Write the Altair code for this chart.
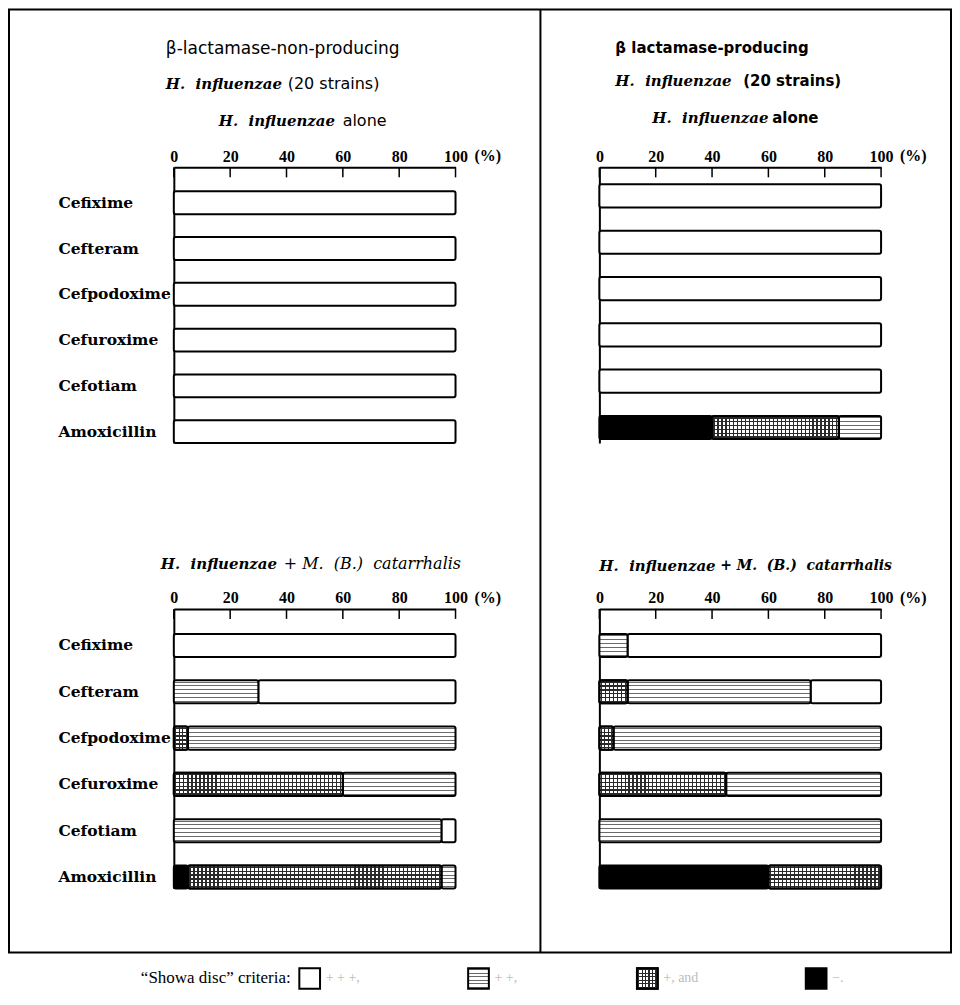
import altair as alt
import pandas as pd

# ---------------- data ----------------
drugs = ["Cefixime", "Cefteram", "Cefpodoxime", "Cefuroxime", "Cefotiam", "Amoxicillin"]
criteria = ["-", "+", "++", "+++"]          # stacking order from the left: black, grid, lines, white
tick_values = [0, 20, 40, 60, 80, 100]

# beta-lactamase-non-producing, H. influenzae alone
tl_black = [0, 0, 0, 0, 0, 0]
tl_grid = [0, 0, 0, 0, 0, 0]
tl_lines = [0, 0, 0, 0, 0, 0]
tl_white = [100, 100, 100, 100, 100, 100]

# beta-lactamase-producing, H. influenzae alone
tr_black = [0, 0, 0, 0, 0, 40]
tr_grid = [0, 0, 0, 0, 0, 45]
tr_lines = [0, 0, 0, 0, 0, 15]
tr_white = [100, 100, 100, 100, 100, 0]

# beta-lactamase-non-producing, H. influenzae + M. (B.) catarrhalis
bl_black = [0, 0, 0, 0, 0, 5]
bl_grid = [0, 0, 5, 60, 0, 90]
bl_lines = [0, 30, 95, 40, 95, 5]
bl_white = [100, 70, 0, 0, 5, 0]

# beta-lactamase-producing, H. influenzae + M. (B.) catarrhalis
br_black = [0, 0, 0, 0, 0, 60]
br_grid = [0, 10, 5, 45, 0, 40]
br_lines = [10, 65, 95, 55, 100, 0]
br_white = [90, 25, 0, 0, 0, 0]

legend_items = ["+++", "++", "+", "-"]
legend_labels = ["+ + +,", "+ +,", "+, and", "\u2212."]

W = 282


def table(black, grid, lines, white):
    rows = []
    for i, d in enumerate(drugs):
        for k, (c, v) in enumerate(zip(criteria, [black[i], grid[i], lines[i], white[i]])):
            rows.append({"drug": d, "crit": c, "order": k, "pct": v})
    return pd.DataFrame(rows)


def hstripes(n, color, halfw, bg="white"):
    stops = [{"offset": 0, "color": bg}]
    for i in range(n):
        c = (i + 0.5) / n
        a, b = round(c - halfw, 4), round(c + halfw, 4)
        stops += [{"offset": a, "color": bg}, {"offset": a, "color": color},
                  {"offset": b, "color": color}, {"offset": b, "color": bg}]
    stops.append({"offset": 1, "color": bg})
    return {"gradient": "linear", "x1": 0, "y1": 0, "x2": 0, "y2": 1, "stops": stops}


def vstripes(n, color, halfw, bg="rgba(255,255,255,0)"):
    g = hstripes(n, color, halfw, bg)
    g["x2"], g["y2"] = 1, 0
    return g


LINES_FILL = hstripes(6, "#6a6a6a", 0.022)
GRID_H_FILL = hstripes(6, "#2a2a2a", 0.03)

dummy = pd.DataFrame({"k": [0]})

xaxis = alt.Axis(orient="top", title=None, values=tick_values, ticks=False, tickSize=0,
                 domainWidth=2, domainColor="black", grid=False, labelFlush=False,
                 labelOverlap=False, labelFont="Liberation Serif", labelFontWeight="bold",
                 labelFontSize=16, labelColor="black", labelPadding=3)


def yaxis(show_labels):
    return alt.Axis(title=None, ticks=False, tickSize=0, domainWidth=2, domainColor="black",
                    grid=False, labels=show_labels, labelFont="DejaVu Serif",
                    labelFontWeight="bold", labelFontSize=15.5, labelColor="black",
                    labelAlign="left", labelPadding=116)


def text(t, x, y, font="DejaVu Serif", size=15, weight="normal", style="normal", color="black"):
    return alt.Chart(dummy).mark_text(
        text=t, align="left", baseline="middle", font=font, fontSize=size,
        fontWeight=weight, fontStyle=style, color=color
    ).encode(x=alt.value(x), y=alt.value(y))


def panel(black, grid, lines, white, H, pad_outer, align, extra, show_labels, legend_layer=None):
    df = table(black, grid, lines, white)
    xs = alt.Scale(domain=[0, 100], nice=False, zero=True)
    X = alt.X("x0:Q", scale=xs, axis=xaxis)
    Y = alt.Y("drug:N", sort=drugs, axis=yaxis(show_labels),
              scale=alt.Scale(domain=drugs, paddingInner=0.5, paddingOuter=pad_outer, align=align))
    base = alt.Chart(df).transform_stack(
        stack="pct", groupby=["drug"], as_=["x0", "x1"],
        sort=[alt.SortField("order", order="ascending")]
    ).transform_filter("datum.pct > 0")

    def seg(flt, fill):
        return base.transform_filter(flt).mark_bar(
            fill=fill, stroke="black", strokeWidth=2, cornerRadius=2
        ).encode(x=X, x2="x1:Q", y=Y)

    layers = [
        seg("datum.crit == '+++'", "white"),
        seg("datum.crit == '++'", LINES_FILL),
        seg("datum.crit == '+'", GRID_H_FILL),
    ]
    for v in sorted(set(g for g in grid if g > 0)):
        px = v * W / 100.0
        n = max(2, int(round(px / 4.0)))
        layers.append(seg("datum.crit == '+' && datum.pct == %d" % v,
                          vstripes(n, "#2a2a2a", 0.6 / px)))
    layers.append(seg("datum.crit == '-'", "black"))
    layers.append(
        alt.Chart(pd.DataFrame({"t": tick_values})).mark_rule(color="black", strokeWidth=1.5)
        .encode(x=alt.X("t:Q", scale=xs, axis=xaxis), y=alt.value(0), y2=alt.value(10))
    )
    layers.append(
        alt.Chart(dummy).mark_text(text="(%)", align="left", baseline="middle",
                                   font="Liberation Serif", fontSize=16, fontWeight="bold",
                                   dx=19, color="black")
        .encode(x=alt.datum(100), y=alt.value(-11))
    )
    layers += extra
    body = alt.layer(*layers)
    if legend_layer is not None:
        body = alt.layer(body, legend_layer).resolve_scale(x="independent")
    return body.properties(width=W, height=H)


HI = "H.\u00a0 influenzae"

tl_extra = [
    alt.Chart(dummy).mark_rect(filled=False, stroke="black", strokeWidth=2)
    .encode(x=alt.value(-165), x2=alt.value(778), y=alt.value(-158), y2=alt.value(786)),
    alt.Chart(dummy).mark_rule(color="black", strokeWidth=2)
    .encode(x=alt.value(367), y=alt.value(-158), y2=alt.value(786)),
    text("\u03b2-lactamase-non-producing", -8, -118, font="DejaVu Sans", size=17),
    text(HI, -8, -83, size=15, weight="bold", style="italic"),
    text("(20 strains)", 114, -83, font="DejaVu Sans", size=16),
    text(HI, 45, -46, size=15, weight="bold", style="italic"),
    text("alone", 169, -46, font="DejaVu Sans", size=16),
]
tr_extra = [
    text("\u03b2 lactamase-producing", 16, -119, font="DejaVu Sans", size=15, weight="bold"),
    text(HI, 16, -86, size=15, weight="bold", style="italic"),
    text("(20 strains)", 144, -86, font="DejaVu Sans", size=15, weight="bold"),
    text(HI, 53, -49, size=15, weight="bold", style="italic"),
    text("alone", 173, -49, font="DejaVu Sans", size=15, weight="bold"),
]
bl_extra = [
    text(HI, -13, -45, size=15, weight="bold", style="italic"),
    text("+ M.\u00a0 (B.)\u00a0 catarrhalis", 110, -45, size=16, style="italic"),
]
br_extra = [
    text(HI, 0, -43, size=15, weight="bold", style="italic"),
    text("+ M.\u00a0 (B.)\u00a0 catarrhalis", 121, -43, size=14, weight="bold", style="italic"),
]

# ---------------- legend (drawn below the lower-left panel) ----------------
leg_df = pd.DataFrame({"crit": legend_items, "label": legend_labels})
LX = alt.X("crit:N", axis=None, scale=alt.Scale(domain=legend_items, range=[136, 643], padding=0))
LEG_Y = 370
leg_base = alt.Chart(leg_df)
leg_fills = {"+++": ["white"], "++": [LINES_FILL], "+": [GRID_H_FILL, vstripes(6, "#2a2a2a", 0.03)],
             "-": ["black"]}
leg_layers = []
for item in legend_items:
    for f in leg_fills[item]:
        leg_layers.append(
            leg_base.transform_filter("datum.crit == '%s'" % item)
            .mark_square(size=430, fill=f, stroke="black", strokeWidth=2, opacity=1)
            .encode(x=LX, y=alt.value(LEG_Y))
        )
leg_layers.append(
    leg_base.mark_text(align="left", baseline="middle", dx=16, font="Liberation Serif",
                       fontSize=14, color="#bdbdbd")
    .encode(x=LX, y=alt.value(LEG_Y), text="label:N")
)
leg_layers.append(
    alt.Chart(dummy).mark_text(text="\u201cShowa disc\u201d criteria:", align="right",
                               baseline="middle", dx=-19, font="Liberation Serif",
                               fontSize=17, color="black")
    .encode(x=alt.datum("+++"), y=alt.value(LEG_Y))
)
legend = alt.layer(*leg_layers)

tl = panel(tl_black, tl_grid, tl_lines, tl_white, 276, 0.262, 1, tl_extra, True)
tr = panel(tr_black, tr_grid, tr_lines, tr_white, 276, 0.2265, 0.81, tr_extra, False)
bl = panel(bl_black, bl_grid, bl_lines, bl_white, 280, 0.27, 1, bl_extra, True, legend)
br = panel(br_black, br_grid, br_lines, br_white, 280, 0.27, 1, br_extra, False)

chart = alt.concat(
    tl, tr, bl, br, columns=2, spacing={"row": 166, "column": 144}, bounds="flush"
).configure_view(stroke=None).properties(padding=0, background="white")

chart.save("out.html", embed_options={"renderer": "svg", "actions": False})
